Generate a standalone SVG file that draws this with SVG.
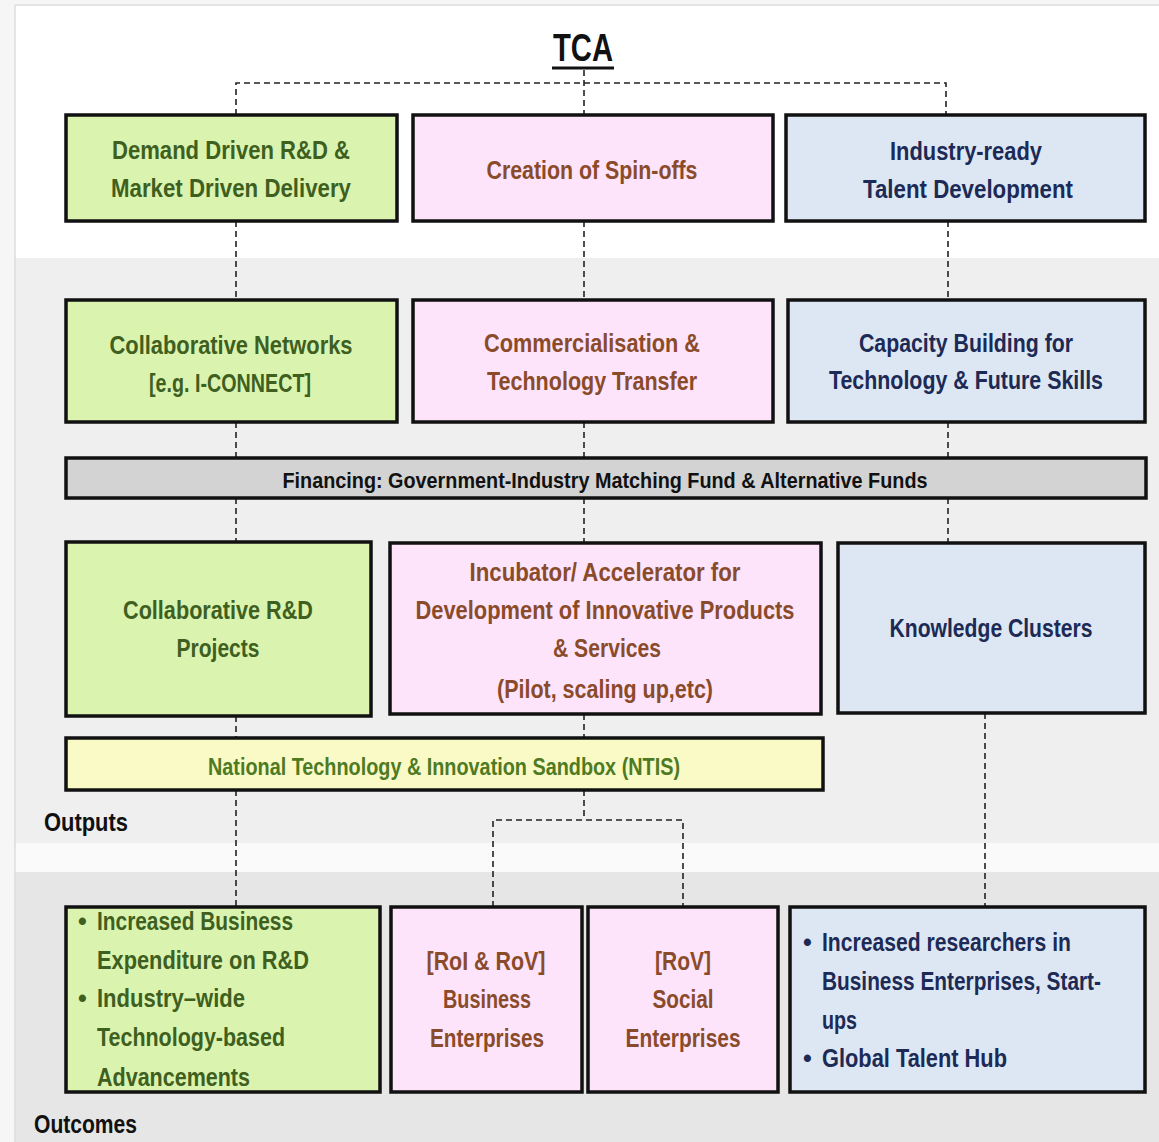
<svg xmlns="http://www.w3.org/2000/svg" width="1159" height="1142" viewBox="0 0 1159 1142">
<style>
text{font-family:"Liberation Sans",Arial,sans-serif;font-weight:bold;font-size:25px}
.g{fill:#3f5f1f}.p{fill:#8a4b2a}.b{fill:#1c2a55}.k{fill:#111}.n{fill:#4e7a23}
.c{text-anchor:middle}
.bx{stroke:#111;stroke-width:3.5}
.gf{fill:#daf4b0}.pf{fill:#fde4fa}.bf{fill:#dde7f4}
.d{stroke:#222;stroke-width:1.6;stroke-dasharray:6 4;fill:none}
</style>
<rect x="0" y="0" width="1159" height="1142" fill="#f6f6f6"/>
<rect x="15" y="5" width="1144" height="253" fill="#ffffff"/>
<rect x="15" y="258" width="1144" height="585" fill="#efefef"/>
<rect x="15" y="843" width="1144" height="29" fill="#fafafa"/>
<rect x="15" y="872" width="1144" height="270" fill="#e6e6e6"/>
<line x1="15" y1="5" x2="15" y2="1142" stroke="#dcdcdc" stroke-width="1.5"/>
<line x1="15" y1="5" x2="1159" y2="5" stroke="#dcdcdc" stroke-width="1.5"/>

<g id="title">
<text x="583" y="61" class="c k" style="font-size:38px" textLength="60" lengthAdjust="spacingAndGlyphs">TCA</text>
<line x1="552" y1="68" x2="614" y2="68" stroke="#111" stroke-width="3"/>
</g>

<g id="connectors">
<path class="d" d="M584 70V115M236 115V83H946V115"/>
<path class="d" d="M236 221V300M236 422V458M236 498V542M236 716V738M236 790V907"/>
<path class="d" d="M584 221V300M584 422V458M584 498V543M584 714V738M584 790V820"/>
<path class="d" d="M493 907V820H683V907"/>
<path class="d" d="M948 221V300M948 422V458M948 498V543"/>
<path class="d" d="M985 713V907"/>
</g>

<g id="demand-driven">
<rect class="bx gf" x="66" y="115" width="331" height="106"/>
<text class="c g" x="231" y="159" textLength="238" lengthAdjust="spacingAndGlyphs">Demand Driven R&amp;D &amp;</text>
<text class="c g" x="231" y="197" textLength="240" lengthAdjust="spacingAndGlyphs">Market Driven Delivery</text>
</g>
<g id="spin-offs">
<rect class="bx pf" x="413" y="115" width="360" height="106"/>
<text class="c p" x="592" y="179" textLength="211" lengthAdjust="spacingAndGlyphs">Creation of Spin-offs</text>
</g>
<g id="talent">
<rect class="bx bf" x="786" y="115" width="359" height="106"/>
<text class="c b" x="966" y="160" textLength="152" lengthAdjust="spacingAndGlyphs">Industry-ready</text>
<text class="c b" x="968" y="198" textLength="210" lengthAdjust="spacingAndGlyphs">Talent Development</text>
</g>

<g id="collab-networks">
<rect class="bx gf" x="66" y="300" width="331" height="122"/>
<text class="c g" x="231" y="354" textLength="243" lengthAdjust="spacingAndGlyphs">Collaborative Networks</text>
<text class="c g" x="230" y="392" textLength="162" lengthAdjust="spacingAndGlyphs">[e.g. I-CONNECT]</text>
</g>
<g id="commercialisation">
<rect class="bx pf" x="413" y="300" width="360" height="122"/>
<text class="c p" x="592" y="352" textLength="216" lengthAdjust="spacingAndGlyphs">Commercialisation &amp;</text>
<text class="c p" x="592" y="390" textLength="210" lengthAdjust="spacingAndGlyphs">Technology Transfer</text>
</g>
<g id="capacity">
<rect class="bx bf" x="788" y="300" width="357" height="122"/>
<text class="c b" x="966" y="352" textLength="214" lengthAdjust="spacingAndGlyphs">Capacity Building for</text>
<text class="c b" x="966" y="389" textLength="274" lengthAdjust="spacingAndGlyphs">Technology &amp; Future Skills</text>
</g>

<g id="financing">
<rect class="bx" x="66" y="458" width="1080" height="40" fill="#d3d3d3"/>
<text class="c k" x="605" y="488" style="font-size:22px" textLength="645" lengthAdjust="spacingAndGlyphs">Financing: Government-Industry Matching Fund &amp; Alternative Funds</text>
</g>

<g id="collab-rd">
<rect class="bx gf" x="66" y="542" width="305" height="174"/>
<text class="c g" x="218" y="619" textLength="190" lengthAdjust="spacingAndGlyphs">Collaborative R&amp;D</text>
<text class="c g" x="218" y="657" textLength="83" lengthAdjust="spacingAndGlyphs">Projects</text>
</g>
<g id="incubator">
<rect class="bx pf" x="390" y="543" width="431" height="171"/>
<text class="c p" x="605" y="581" textLength="271" lengthAdjust="spacingAndGlyphs">Incubator/ Accelerator for</text>
<text class="c p" x="605" y="619" textLength="379" lengthAdjust="spacingAndGlyphs">Development of Innovative Products</text>
<text class="c p" x="607" y="657" textLength="108" lengthAdjust="spacingAndGlyphs">&amp; Services</text>
<text class="c p" x="605" y="698" textLength="216" lengthAdjust="spacingAndGlyphs">(Pilot, scaling up,etc)</text>
</g>
<g id="knowledge">
<rect class="bx bf" x="838" y="543" width="307" height="170"/>
<text class="c b" x="991" y="637" textLength="203" lengthAdjust="spacingAndGlyphs">Knowledge Clusters</text>
</g>

<g id="ntis">
<rect class="bx" x="66" y="738" width="757" height="52" fill="#fafac6"/>
<text class="c n" x="444" y="775" style="font-size:23px" textLength="472" lengthAdjust="spacingAndGlyphs">National Technology &amp; Innovation Sandbox (NTIS)</text>
</g>

<text class="k" x="44" y="831" textLength="84" lengthAdjust="spacingAndGlyphs">Outputs</text>

<g id="outcome-rd">
<rect class="bx gf" x="66" y="907" width="314" height="185"/>
<text class="g" x="78" y="930">•</text>
<text class="g" x="97" y="930" textLength="196" lengthAdjust="spacingAndGlyphs">Increased Business</text>
<text class="g" x="97" y="969" textLength="212" lengthAdjust="spacingAndGlyphs">Expenditure on R&amp;D</text>
<text class="g" x="78" y="1007">•</text>
<text class="g" x="97" y="1007" textLength="148" lengthAdjust="spacingAndGlyphs">Industry–wide</text>
<text class="g" x="97" y="1046" textLength="188" lengthAdjust="spacingAndGlyphs">Technology-based</text>
<text class="g" x="97" y="1086" textLength="153" lengthAdjust="spacingAndGlyphs">Advancements</text>
</g>
<g id="business-ent">
<rect class="bx pf" x="391" y="907" width="191" height="185"/>
<text class="c p" x="486" y="970" textLength="119" lengthAdjust="spacingAndGlyphs">[RoI &amp; RoV]</text>
<text class="c p" x="487" y="1008" textLength="88" lengthAdjust="spacingAndGlyphs">Business</text>
<text class="c p" x="487" y="1047" textLength="114" lengthAdjust="spacingAndGlyphs">Enterprises</text>
</g>
<g id="social-ent">
<rect class="bx pf" x="588" y="907" width="190" height="185"/>
<text class="c p" x="683" y="970" textLength="56" lengthAdjust="spacingAndGlyphs">[RoV]</text>
<text class="c p" x="683" y="1008" textLength="61" lengthAdjust="spacingAndGlyphs">Social</text>
<text class="c p" x="683" y="1047" textLength="115" lengthAdjust="spacingAndGlyphs">Enterprises</text>
</g>
<g id="outcome-talent">
<rect class="bx bf" x="790" y="907" width="355" height="185"/>
<text class="b" x="803" y="951">•</text>
<text class="b" x="822" y="951" textLength="249" lengthAdjust="spacingAndGlyphs">Increased researchers in</text>
<text class="b" x="822" y="990" textLength="279" lengthAdjust="spacingAndGlyphs">Business Enterprises, Start-</text>
<text class="b" x="822" y="1029" textLength="35" lengthAdjust="spacingAndGlyphs">ups</text>
<text class="b" x="803" y="1067">•</text>
<text class="b" x="822" y="1067" textLength="185" lengthAdjust="spacingAndGlyphs">Global Talent Hub</text>
</g>

<text class="k" x="34" y="1133" textLength="103" lengthAdjust="spacingAndGlyphs">Outcomes</text>
</svg>
